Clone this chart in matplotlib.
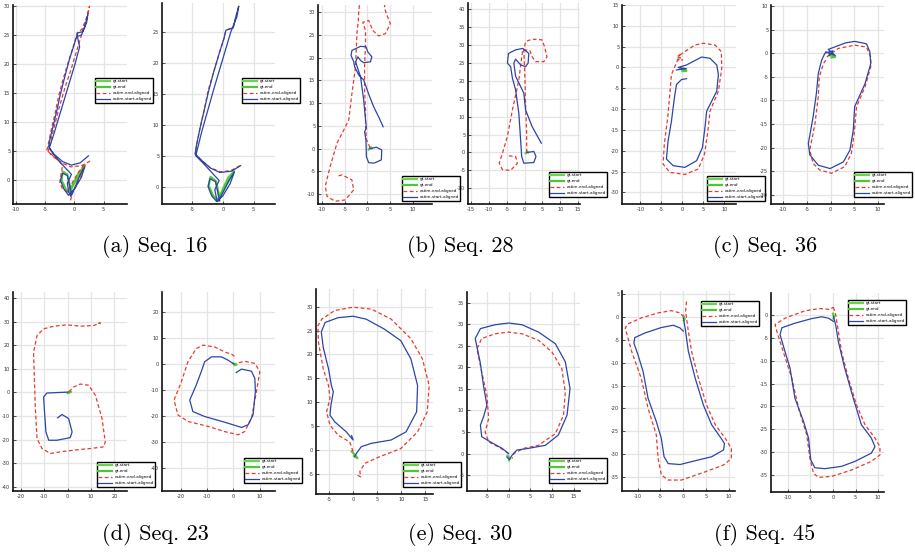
import numpy as np
import matplotlib.pyplot as plt
from matplotlib.lines import Line2D

plt.rcParams['axes.unicode_minus'] = False

nan = float('nan')

# ---- trajectories, (x, y) in metres ----
# Seq. 16
s16l_gt = [(1.8, 2.6), (1.0, 1.0), (0.0, -0.5), (-1.0, -2.0), (-1.5, -1.5), (-2.2, 0.0), (-2.0, 1.5),
           (-1.2, 1.0), (-0.8, -0.8), (-0.7, -2.0), (-0.2, -0.6), (0.8, 1.4), (1.6, 2.2)]
s16l_red = [(2.7, 3.3), (1.2, 2.5), (-0.6, 2.3), (-2.2, 3.0), (-3.8, 4.2), (-4.7, 5.2), (-4.4, 6.5),
            (-3.9, 9.0), (-3.3, 11.5), (-2.7, 14.5), (-1.9, 17.5), (-1.0, 20.5), (-0.2, 23.0), (0.5, 25.5),
            (1.3, 26.0), (2.0, 27.8), (2.6, 30.0), (2.2, 28.0), (1.3, 25.3), (0.3, 22.0), (-0.6, 19.0),
            (-1.6, 16.0), (-2.6, 12.5), (-3.5, 9.0), (-4.5, 5.0), (-3.2, 3.8), (-2.0, 2.6), (-2.3, 1.0),
            (-2.5, -0.5), (-2.0, -1.5), (-1.2, -2.0), (-0.4, -0.5), (0.6, 1.2), (1.6, 2.6), (1.0, 0.3),
            (-0.3, -2.2), (-0.8, -3.9)]
s16l_blue = [(2.4, 4.2), (1.0, 3.0), (-0.5, 2.6), (-2.0, 3.2), (-3.5, 4.5), (-4.4, 5.8), (-4.2, 7.0),
             (-3.6, 9.5), (-3.0, 12.0), (-2.4, 14.8), (-1.6, 18.0), (-0.8, 21.0), (0.0, 23.5), (0.6, 25.4),
             (1.4, 25.6), (1.8, 26.5), (2.3, 28.6), (2.1, 27.2), (1.2, 25.0), (0.5, 24.8), (0.9, 23.0),
             (0.1, 20.0), (-0.8, 17.0), (-1.7, 14.0), (-2.6, 11.0), (-3.5, 8.0), (-4.3, 5.5), (-3.2, 4.0),
             (-1.8, 2.4), (-0.5, 1.0), (-1.2, -0.5), (-1.0, -2.0), (-0.6, -2.8), (0.2, -1.0), (1.0, 1.0),
             (1.8, 2.4), (1.2, 0.5), (0.0, -1.5), (-1.0, -2.6), (-1.8, -1.5), (-2.4, 0.0), (-2.0, 1.2),
             (-1.2, 0.8), (-0.8, -1.0), (-0.5, -2.4)]
s16r_gt = [(1.8, 2.5), (0.9, 0.8), (-0.1, -0.8), (-0.9, -2.2), (-1.6, -1.4), (-2.3, 0.2), (-2.0, 1.6),
           (-1.1, 0.9), (-0.7, -0.9), (-0.6, -2.2), (0.0, -0.4), (0.9, 1.5), (1.7, 2.3)]
s16r_red = [(2.8, 3.4), (1.3, 2.6), (-0.4, 2.4), (-2.1, 3.1), (-3.6, 4.4), (-4.5, 5.3), (-4.3, 6.6),
            (-3.7, 9.5), (-3.0, 12.5), (-2.4, 15.5), (-1.5, 18.5), (-0.6, 21.5), (0.2, 24.0), (0.5, 25.3),
            (1.7, 25.7), (2.0, 27.0), (2.6, 29.2)]
s16r_blue = [(2.9, 3.4), (1.4, 2.5), (-0.5, 2.3), (-2.0, 3.0), (-3.5, 4.3), (-4.5, 5.3), (-4.3, 6.6),
             (-3.7, 9.5), (-3.0, 12.5), (-2.3, 15.5), (-1.5, 18.5), (-0.6, 21.5), (0.2, 24.0), (0.5, 25.3),
             (1.7, 25.7), (2.0, 27.0), (2.6, 29.2), (2.3, 27.5), (1.3, 25.0), (0.4, 22.0), (-0.5, 19.0),
             (-1.4, 16.0), (-2.4, 12.5), (-3.4, 9.0), (-4.4, 5.0), (-3.2, 3.8), (-1.8, 2.3), (-0.6, 1.0),
             (-1.3, -0.5), (-1.0, -2.0), (-0.8, -2.4), (0.1, -0.8), (1.0, 1.0), (1.9, 2.4), (1.2, 0.5),
             (0.0, -1.5), (-1.0, -2.4), (-1.8, -1.5), (-2.4, 0.0), (-2.1, 1.3), (-1.2, 0.8), (-0.8, -1.0),
             (-0.5, -2.3)]

# Seq. 28
s28l_gt = [(0.3, -0.2), (0.8, 0.3), (1.0, 0.0)]
s28l_red = [(0.6, 0.2), (-0.2, 2.0), (-0.4, 5.0), (-0.4, 8.5), (-0.6, 13.0), (-0.6, 18.0), (-0.4, 23.0),
            (-0.4, 26.0), (-1.0, 27.8), (0.3, 28.2), (1.2, 26.0), (2.5, 24.8), (4.0, 25.3), (5.1, 27.5),
            (4.2, 29.7), (3.8, 31.0), (3.9, 33.0), nan,
            (-1.6, 33.0), (-1.9, 30.0), (-2.0, 28.0), (-2.3, 25.3), (-2.6, 18.0), (-3.4, 12.1), (-4.1, 6.3),
            (-5.5, 3.5), (-6.7, 1.2), (-8.2, -3.9), (-9.3, -8.3), (-8.9, -10.5), (-7.1, -11.6),
            (-4.9, -11.3), (-3.0, -9.1), (-3.4, -6.9), (-5.6, -5.8), (-6.7, -6.1)]
s28l_blue = [(0.6, 0.0), (2.0, 0.3), (3.2, -0.3), (3.1, -2.5), (1.5, -3.2), (0.3, -3.1), (-0.2, -1.8),
             (-0.3, 1.9), (-0.6, 3.7), (-0.2, 4.5), (-0.5, 7.5), (-0.8, 10.7), (-1.5, 15.8), (-2.6, 19.1),
             (-2.1, 20.2), (-1.5, 19.4), (-0.8, 18.9), (0.7, 19.1), (1.0, 20.2), (0.1, 21.3), (-0.3, 22.4),
             (-1.5, 22.5), (-3.4, 21.6), (-3.6, 20.5), (-3.0, 19.1), (-2.8, 18.0), (-1.9, 16.2),
             (-0.8, 15.1), (0.3, 12.0), (1.4, 9.2), (2.5, 7.0), (3.5, 4.8)]
s28r_gt = [(0.3, -0.2), (0.8, 0.3), (1.0, 0.0)]
s28r_red = [(0.6, 0.0), (0.6, 5.4), (0.3, 12.8), (0.1, 21.2), (-0.2, 28.7), (0.3, 31.0), (2.1, 31.7),
            (4.9, 31.5), (5.6, 29.6), (6.3, 26.8), (5.4, 25.4), (3.1, 25.4), (2.1, 26.8), (1.5, 28.5),
            (-0.5, 28.8), (-1.0, 25.0), (-1.6, 20.3), (-2.5, 16.0), (-3.4, 11.9), (-4.8, 4.5), (-6.2, -0.2),
            (-7.1, -3.0), (-6.2, -4.8), (-3.9, -5.0), (-2.0, -3.0), (-2.5, -1.1), (-4.8, -0.9)]
s28r_blue = [(0.7, 0.0), (2.6, 0.3), (3.2, -1.1), (2.6, -2.8), (-0.2, -3.0), (-0.8, -1.1), (-1.1, 3.5),
             (-1.6, 11.0), (-2.5, 17.5), (-3.4, 20.8), (-3.9, 24.0), (-4.8, 25.0), (-4.5, 27.7),
             (-2.5, 28.7), (-0.5, 29.1), (1.2, 27.7), (1.0, 25.0), (0.3, 24.0), (-1.1, 24.5), (-2.5, 26.1),
             (-3.0, 25.0), (-2.5, 21.3), (-0.2, 16.6), (0.3, 11.9), (2.1, 7.3), (4.7, 2.6)]

# Seq. 36
s36l_gt = [(-0.5, -0.3), (0.5, -0.6), (1.0, -0.8), (0.0, -0.9)]
s36l_red = [(-0.6, 3.0), (3.0, 5.4), (5.0, 5.8), (7.8, 5.4), (9.3, 3.8), (9.4, -0.2), (8.6, -5.7),
            (6.6, -10.5), (6.1, -15.2), (5.3, -20.8), (3.8, -24.4), (0.6, -25.7), (-3.0, -25.2),
            (-4.6, -23.2), (-4.3, -18.4), (-3.5, -12.1), (-3.0, -6.5), (-2.6, -1.7), (-1.8, 0.2),
            (-0.6, 3.0), (-1.4, 2.6), (-0.2, 2.2), (-1.2, 1.8), (0.2, 1.8)]
s36l_blue = [(-1.4, -0.6), (1.0, -0.3), (-1.0, 0.0), (1.0, 0.6), (4.6, 2.5), (6.6, 2.2), (8.2, 0.6),
             (8.6, -1.7), (8.2, -5.7), (5.8, -10.5), (5.4, -14.4), (4.8, -19.2), (3.4, -22.4),
             (0.6, -24.0), (-2.2, -23.6), (-3.8, -22.0), (-3.4, -17.6), (-2.6, -12.9), (-1.9, -7.3),
             (-1.4, -4.1), (-0.2, -2.9), (1.0, -2.7)]
s36r_gt = [(-0.3, -0.3), (0.5, -0.6), (1.0, -0.8), (0.2, -0.9)]
s36r_red = [(-0.8, -0.8), (1.6, 1.0), (5.1, 1.7), (7.6, 1.3), (8.5, -0.8), (8.5, -2.9), (7.3, -7.1),
            (5.5, -11.3), (5.0, -17.0), (4.4, -21.2), (3.0, -24.0), (0.2, -25.4), (-2.3, -24.7),
            (-3.7, -23.3), (-4.4, -20.5), (-3.3, -14.9), (-2.6, -9.2), (-2.4, -5.0), (-1.5, -2.2),
            (-0.8, -1.1)]
s36r_blue = [(-1.0, 0.3), (1.0, -0.5), (-0.5, 0.8), (3.2, 2.2), (5.1, 2.5), (7.6, 2.0), (8.3, 0.3),
             (8.5, -2.2), (7.3, -6.4), (5.1, -11.3), (4.8, -16.3), (4.1, -20.5), (2.7, -23.0),
             (-0.1, -24.4), (-2.6, -23.7), (-4.4, -21.5), (-4.7, -19.1), (-3.7, -13.5), (-3.0, -8.5),
             (-2.6, -4.3), (-1.9, -1.5), (-1.2, 0.0), (0.5, 0.5), (-0.3, -0.5)]

# Seq. 23
s23l_gt = [(0.0, -0.3), (1.5, 0.3), (0.8, 0.0)]
s23l_red = [(0.5, 0.3), (2.6, 2.3), (5.4, 3.5), (9.0, 3.0), (11.9, -1.3), (14.7, -11.1), (16.1, -21.0),
            (15.4, -23.1), (9.7, -23.8), (2.6, -24.5), (-3.1, -25.2), (-7.4, -25.9), (-11.0, -23.8),
            (-13.1, -19.6), (-13.9, -5.5), (-14.6, 17.0), (-13.1, 24.1), (-10.3, 26.9), (-6.0, 28.0),
            (-0.3, 28.6), (5.4, 28.0), (11.1, 28.3), (14.0, 29.4), (12.6, 29.0)]
s23l_blue = [(0.3, 0.1), (-4.6, -0.1), (-8.9, -0.3), (-10.3, -2.0), (-9.9, -8.3), (-9.3, -16.8),
             (-8.1, -20.3), (-4.6, -20.3), (1.1, -19.2), (1.9, -16.8), (0.4, -11.1), (-2.4, -9.4),
             (-4.3, -10.8)]
s23r_gt = [(0.0, 0.3), (1.2, -0.2), (0.5, -0.4)]
s23r_red = [(0.4, 3.0), (-0.5, 3.7), (-3.3, 4.7), (-7.2, 6.6), (-11.6, 7.3), (-14.2, 6.0), (-17.4, 0.9),
            (-19.9, -6.8), (-22.7, -13.8), (-21.2, -19.5), (-17.4, -22.0), (-9.7, -23.9), (-3.3, -25.9),
            (1.8, -27.1), (4.3, -25.9), (6.9, -20.8), (8.8, -10.6), (10.1, -2.9), (8.2, 0.3), (4.3, 1.1),
            (1.1, 0.3)]
s23r_blue = [(0.2, 0.0), (-2.0, 1.5), (-4.6, 2.8), (-8.4, 2.8), (-11.0, 0.9), (-12.3, -2.9),
             (-14.2, -8.0), (-16.7, -13.8), (-15.5, -18.2), (-11.0, -20.1), (-3.3, -22.3), (3.1, -24.3),
             (5.6, -23.3), (7.5, -19.5), (8.4, -10.6), (8.2, -5.5), (6.9, -2.7), (3.1, -1.9), (1.1, -3.2)]

# Seq. 30
s30l_gt = [(-0.3, -0.3), (0.4, -1.0), (0.9, -1.7), (0.2, -1.2)]
s30l_red = [(0.0, -0.3), (-0.7, 1.7), (-3.1, 3.1), (-4.8, 5.2), (-5.5, 8.0), (-4.8, 10.8), (-5.1, 13.5),
            (-6.2, 17.0), (-7.2, 22.6), (-7.3, 26.0), (-6.5, 27.4), (-3.8, 29.2), (0.0, 29.9), (3.8, 29.5),
            (7.9, 27.4), (12.0, 23.3), (14.4, 19.1), (15.8, 13.5), (15.4, 8.0), (13.4, 3.8), (9.9, 0.3),
            (5.5, -1.4), (2.4, -2.8), (1.4, -4.5), (1.6, -5.6), (0.7, -5.2)]
s30l_blue = [(-0.3, 3.0), (0.0, 2.1), (-1.4, 3.8), (-3.8, 5.9), (-4.8, 7.3), (-4.6, 9.4), (-4.1, 12.2),
             (-4.5, 13.5), (-5.1, 17.0), (-6.2, 21.5), (-6.6, 24.7), (-5.8, 26.7), (-3.1, 27.7),
             (0.0, 28.0), (2.7, 27.4), (6.5, 25.3), (9.9, 22.9), (12.0, 19.1), (13.4, 13.5), (13.2, 8.0),
             (11.0, 3.8), (7.9, 2.1), (3.8, 1.4), (1.7, 0.7), (0.7, -0.7), (0.3, -1.4)]
s30r_gt = [(-0.2, -0.5), (0.3, -1.2), (0.1, -1.6)]
s30r_red = [(0.0, 0.0), (-1.9, 1.3), (-4.6, 2.7), (-5.4, 5.0), (-4.6, 8.1), (-5.0, 13.5), (-6.2, 18.9),
            (-7.3, 24.3), (-6.2, 26.7), (-3.1, 27.8), (0.0, 28.2), (3.1, 27.8), (6.9, 26.3), (10.0, 23.6),
            (12.3, 19.7), (13.1, 14.3), (12.7, 8.9), (10.8, 4.6), (6.9, 1.9), (3.5, 1.2), (1.2, 0.0),
            (0.8, -1.2)]
s30r_blue = [(0.0, 0.0), (-1.5, 1.2), (-4.2, 2.7), (-6.2, 3.9), (-6.5, 6.6), (-5.8, 8.5), (-5.0, 11.2),
             (-5.8, 15.8), (-6.5, 20.9), (-7.7, 26.7), (-6.5, 29.0), (-3.1, 29.9), (0.0, 30.3), (3.1, 29.9),
             (6.9, 28.2), (10.8, 25.5), (13.1, 21.3), (14.2, 15.1), (13.5, 8.9), (11.5, 4.3), (8.5, 1.9),
             (4.6, 1.2), (1.9, 0.8), (0.8, -0.4), (0.2, -1.4), (-0.4, -0.8)]

# Seq. 45
s45l_gt = [(0.0, 0.3), (0.3, -0.4), (0.1, -0.8)]
s45l_red = [(0.7, 3.4), (0.5, 1.2), (1.1, -3.1), (1.8, -7.5), (3.3, -13.4), (5.1, -19.3), (7.0, -23.6),
            (9.2, -26.6), (10.5, -28.8), (10.5, -31.0), (8.8, -32.4), (4.8, -33.9), (-0.4, -35.7),
            (-3.3, -35.7), (-4.8, -34.6), (-5.5, -31.0), (-5.9, -25.8), (-7.7, -20.0), (-9.2, -13.4),
            (-11.3, -7.5), (-12.7, -2.4), (-12.1, -1.5), (-9.2, -0.2), (-5.5, 0.9), (-2.6, 1.4),
            (-0.7, 0.9), (0.0, 0.1)]
s45l_blue = [(0.0, -0.2), (0.4, -2.4), (1.1, -7.5), (2.6, -13.4), (4.4, -19.3), (6.2, -23.6),
             (8.3, -26.6), (9.0, -27.7), (8.8, -29.1), (6.2, -30.6), (3.3, -31.3), (-0.7, -32.3),
             (-3.3, -32.1), (-4.2, -30.6), (-4.8, -26.6), (-5.9, -22.9), (-7.7, -17.8), (-8.8, -11.9),
             (-9.9, -8.3), (-10.8, -5.7), (-10.6, -4.5), (-8.4, -3.5), (-4.8, -2.3), (-2.2, -1.8),
             (-0.7, -2.4), (0.0, -3.1)]
s45r_gt = [(0.0, 0.3), (0.3, -0.4), (0.1, -0.8)]
s45r_red = [(0.1, 1.7), (0.6, 0.1), (1.2, -3.6), (1.9, -8.0), (3.4, -13.8), (5.2, -19.6), (7.1, -24.0),
            (9.3, -26.9), (10.4, -28.8), (10.4, -30.6), (8.5, -32.0), (4.1, -33.9), (-0.3, -35.3),
            (-3.2, -35.5), (-4.3, -34.6), (-5.1, -31.3), (-5.8, -26.2), (-7.6, -20.4), (-9.1, -13.8),
            (-11.0, -8.0), (-12.4, -3.6), (-12.8, -2.1), (-10.6, -0.7), (-6.2, 0.9), (-2.9, 1.4),
            (-0.7, 1.2), (0.1, 1.7)]
s45r_blue = [(0.1, -0.3), (0.6, -2.1), (1.2, -5.8), (2.6, -11.6), (4.5, -18.2), (6.3, -24.0),
             (8.5, -26.9), (9.3, -28.8), (8.5, -30.2), (4.9, -32.0), (1.9, -33.1), (-1.8, -33.6),
             (-4.0, -33.4), (-4.9, -31.7), (-5.4, -26.9), (-6.5, -23.3), (-8.4, -18.2), (-9.5, -11.6),
             (-10.6, -8.0), (-11.7, -4.3), (-11.3, -2.8), (-8.4, -1.8), (-4.7, -0.8), (-2.5, -0.4),
             (-1.0, -0.7), (0.1, -1.4)]

captions = ['(a) Seq. 16', '(b) Seq. 28', '(c) Seq. 36', '(d) Seq. 23', '(e) Seq. 30', '(f) Seq. 45']
labels = ['gt-start', 'gt-end', 'estim-end-aligned', 'estim-start-aligned']

panels = [
    (s16l_gt, s16l_red, s16l_blue), (s16r_gt, s16r_red, s16r_blue),
    (s28l_gt, s28l_red, s28l_blue), (s28r_gt, s28r_red, s28r_blue),
    (s36l_gt, s36l_red, s36l_blue), (s36r_gt, s36r_red, s36r_blue),
    (s23l_gt, s23l_red, s23l_blue), (s23r_gt, s23r_red, s23r_blue),
    (s30l_gt, s30l_red, s30l_blue), (s30r_gt, s30r_red, s30r_blue),
    (s45l_gt, s45l_red, s45l_blue), (s45r_gt, s45r_red, s45r_blue),
]

# layout: axes box in pixels (left, top, right, bottom), limits, ticks, legend corner
W, H = 915, 555
boxes = [(13, 5, 127, 204), (162, 3, 275, 204), (318, 5, 432, 204), (468, 3, 580, 204),
         (622, 5, 736, 204), (771, 5, 884, 204), (13, 292, 127, 491), (162, 292, 275, 491),
         (316, 289, 433, 494), (467, 292, 580, 491), (622, 291, 735, 491), (771, 293, 884, 492)]
xlims = [(-10.5, 9.0), (-9.9, 8.5), (-10.9, 14.3), (-15.85, 15.55), (-14.4, 12.8), (-12.6, 11.3),
         (-23.4, 25.4), (-27.3, 15.9), (-7.7, 16.6), (-9.6, 16.5), (-13.4, 11.3), (-13.7, 11.3)]
ylims = [(-4.1, 30.2), (-2.8, 29.7), (-12.2, 31.6), (-14.4, 41.8), (-32.8, 15.0), (-31.9, 10.2),
         (-41.8, 42.5), (-48.7, 27.7), (-9.2, 33.7), (-8.7, 37.5), (-38.1, 5.7), (-38.7, 4.8)]
xticks = [range(-10, 6, 5), range(-5, 6, 5), range(-10, 11, 5), range(-15, 16, 5), range(-10, 11, 5),
          range(-10, 11, 5), range(-20, 21, 10), range(-20, 11, 10), range(-5, 16, 5), range(-5, 16, 5),
          range(-10, 11, 5), range(-10, 11, 5)]
yticks = [range(0, 31, 5), range(0, 26, 5), range(-10, 31, 5), range(-10, 41, 5), range(-30, 16, 5),
          range(-30, 11, 5), range(-40, 41, 10), range(-40, 21, 10), range(-5, 31, 5), range(-5, 36, 5),
          range(-35, 6, 5), range(-35, 1, 5)]
legend_at = [(95, 78), (242, 78), (402, 176), (549, 172), (707, 176), (854, 172),
             (97, 462), (244, 458), (403, 462), (549, 458), (701, 301), (848, 300)]

GREEN1, GREEN2 = '#66d64a', '#4cc736'
RED = '#e8392e'
BLUE = '#2c45a8'

fig = plt.figure(figsize=(W / 100, H / 100), dpi=100)

for i, (gt, red, blue) in enumerate(panels):
    l, t, r, b = boxes[i]
    ax = fig.add_axes([l / W, 1 - b / H, (r - l) / W, (b - t) / H])
    gx, gy = np.array(gt, dtype=float).T
    ax.plot(gx, gy, color=GREEN1, lw=1.6)
    ax.plot(gx, gy, color=GREEN2, lw=0.8)
    rx = [p[0] if p == p else nan for p in red]
    ry = [p[1] if p == p else nan for p in red]
    ax.plot(rx, ry, color=RED, lw=0.9, ls=(0, (3, 2)))
    ax.plot(*np.array(blue, dtype=float).T, color=BLUE, lw=0.9)

    ax.set_xlim(*xlims[i])
    ax.set_ylim(*ylims[i])
    ax.set_xticks(list(xticks[i]))
    ax.set_yticks(list(yticks[i]))
    ax.grid(True, color='#e4e4e4', lw=0.9)
    ax.set_axisbelow(True)
    for s in ['top', 'right']:
        ax.spines[s].set_visible(False)
    for s in ['left', 'bottom']:
        ax.spines[s].set_linewidth(1.2)
        ax.spines[s].set_color('#111111')
    ax.tick_params(direction='in', length=2, width=0.6, labelsize=3.6, pad=2, colors='#333333')

    handles = [Line2D([], [], color=GREEN1, lw=1.6), Line2D([], [], color=GREEN2, lw=1.6),
               Line2D([], [], color=RED, lw=0.9, ls=(0, (3, 2))), Line2D([], [], color=BLUE, lw=0.9)]
    lx, ly = legend_at[i]
    leg = ax.legend(handles, labels, loc='upper left', bbox_to_anchor=(lx / W, 1 - ly / H),
                    bbox_transform=fig.transFigure, borderaxespad=0, fontsize=3, handlelength=3.2,
                    handletextpad=0.6, labelspacing=0.45, borderpad=0.35, fancybox=False, framealpha=1)
    leg.get_frame().set_edgecolor('black')
    leg.get_frame().set_linewidth(1.0)

cap_pos = [(155, 246), (460, 246), (765, 246), (155, 535), (460, 535), (765, 535)]
for (cx, cy), txt in zip(cap_pos, captions):
    fig.text(cx / W, 1 - cy / H, txt, ha='center', va='center', fontfamily='cmr10', fontsize=16)

plt.savefig('out.png', dpi=100)
